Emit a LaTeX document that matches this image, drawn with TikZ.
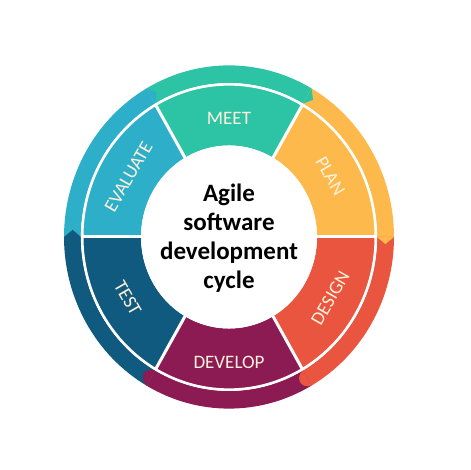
\documentclass[tikz,border=0pt]{standalone}
\usepackage{fontspec}
\setmainfont{Carlito}
\usepackage{xcolor}
\usepackage{tikz}

\definecolor{meetc}{HTML}{2DC4A6}
\definecolor{planc}{HTML}{FDB94B}
\definecolor{designc}{HTML}{E9553F}
\definecolor{developc}{HTML}{8C1A53}
\definecolor{testc}{HTML}{0F5A7E}
\definecolor{evalc}{HTML}{2EAFC9}
\definecolor{labelc}{HTML}{FFF1DC}

\tikzset{
    steplabel/.style={text=labelc, font=\fontsize{19}{19}\selectfont, inner sep=0pt}
}

\begin{document}
\begin{tikzpicture}[x=1pt, y=1pt]
    \useasboundingbox (0,0) rectangle (470,470);

    \begin{scope}[shift={(229,233)}, yscale=1.04]
    % Outer ring of arrows
    \fill[meetc] (120:148) arc (120:60:148) -- (60:165) arc (60:120:165) -- cycle;
    \fill[planc] (60:148) arc (60:0:148) -- (0:165) arc (0:60:165) -- cycle;
    \fill[designc] (0:148) arc (0:-60:148) -- (-60:165) arc (-60:0:165) -- cycle;
    \fill[developc] (-60:148) arc (-60:-120:148) -- (-120:165) arc (-120:-60:165) -- cycle;
    \fill[testc] (-120:148) arc (-120:-180:148) -- (-180:165) arc (-180:-120:165) -- cycle;
    \fill[evalc] (180:148) arc (180:120:148) -- (120:165) arc (120:180:165) -- cycle;

    % Arrow tips
    \fill[meetc] (60:148) -- (57.5:156.5) -- (60:165) -- cycle;
    \fill[planc] (0:148) -- (-2.5:156.5) -- (0:165) -- cycle;
    \fill[designc] (-60:148) .. controls (-64:150) and (-64:163) .. (-60:165) -- cycle;
    \fill[developc] (-120:148) .. controls (-124:150) and (-124:163) .. (-120:165) -- cycle;
    \fill[testc] (180:148) -- (177.5:156.5) -- (180:165) -- cycle;
    \fill[evalc] (120:148) -- (117.5:156.5) -- (120:165) -- cycle;

    % Inner segments
    \fill[meetc] (120:88) -- (120:146) arc (120:60:146) -- (60:88) arc (60:120:88) -- cycle;
    \fill[planc] (60:88) -- (60:146) arc (60:0:146) -- (0:88) arc (0:60:88) -- cycle;
    \fill[designc] (0:88) -- (0:146) arc (0:-60:146) -- (-60:88) arc (-60:0:88) -- cycle;
    \fill[developc] (-60:88) -- (-60:146) arc (-60:-120:146) -- (-120:88) arc (-120:-60:88) -- cycle;
    \fill[testc] (-120:88) -- (-120:146) arc (-120:-180:146) -- (-180:88) arc (-180:-120:88) -- cycle;
    \fill[evalc] (180:88) -- (180:146) arc (180:120:146) -- (120:88) arc (120:180:88) -- cycle;

    % White gaps
    \draw[white, line width=2.6] (0,0) circle (146.8);
    \foreach \a in {0,60,...,300}
        \draw[white, line width=3] (\a:80) -- (\a:147);
    \fill[white] (0,0) circle (88);

    % Step names
    \node[steplabel] (meet) at (90:114) {MEET};
    \node[steplabel, rotate=-60] (plan) at (30:117) {PLAN};
    \node[steplabel, rotate=60] (design) at (-30:117) {DESIGN};
    \node[steplabel] (develop) at (-90:121) {DEVELOP};
    \node[steplabel, rotate=-60] (test) at (-150:117) {TEST};
    \node[steplabel, rotate=60] (evaluate) at (150:116) {EVALUATE};
    \end{scope}

    \node[font=\bfseries\fontsize{25}{29}\selectfont, align=center] (title) at (229,232) {Agile\\software\\development\\cycle};
\end{tikzpicture}
\end{document}
